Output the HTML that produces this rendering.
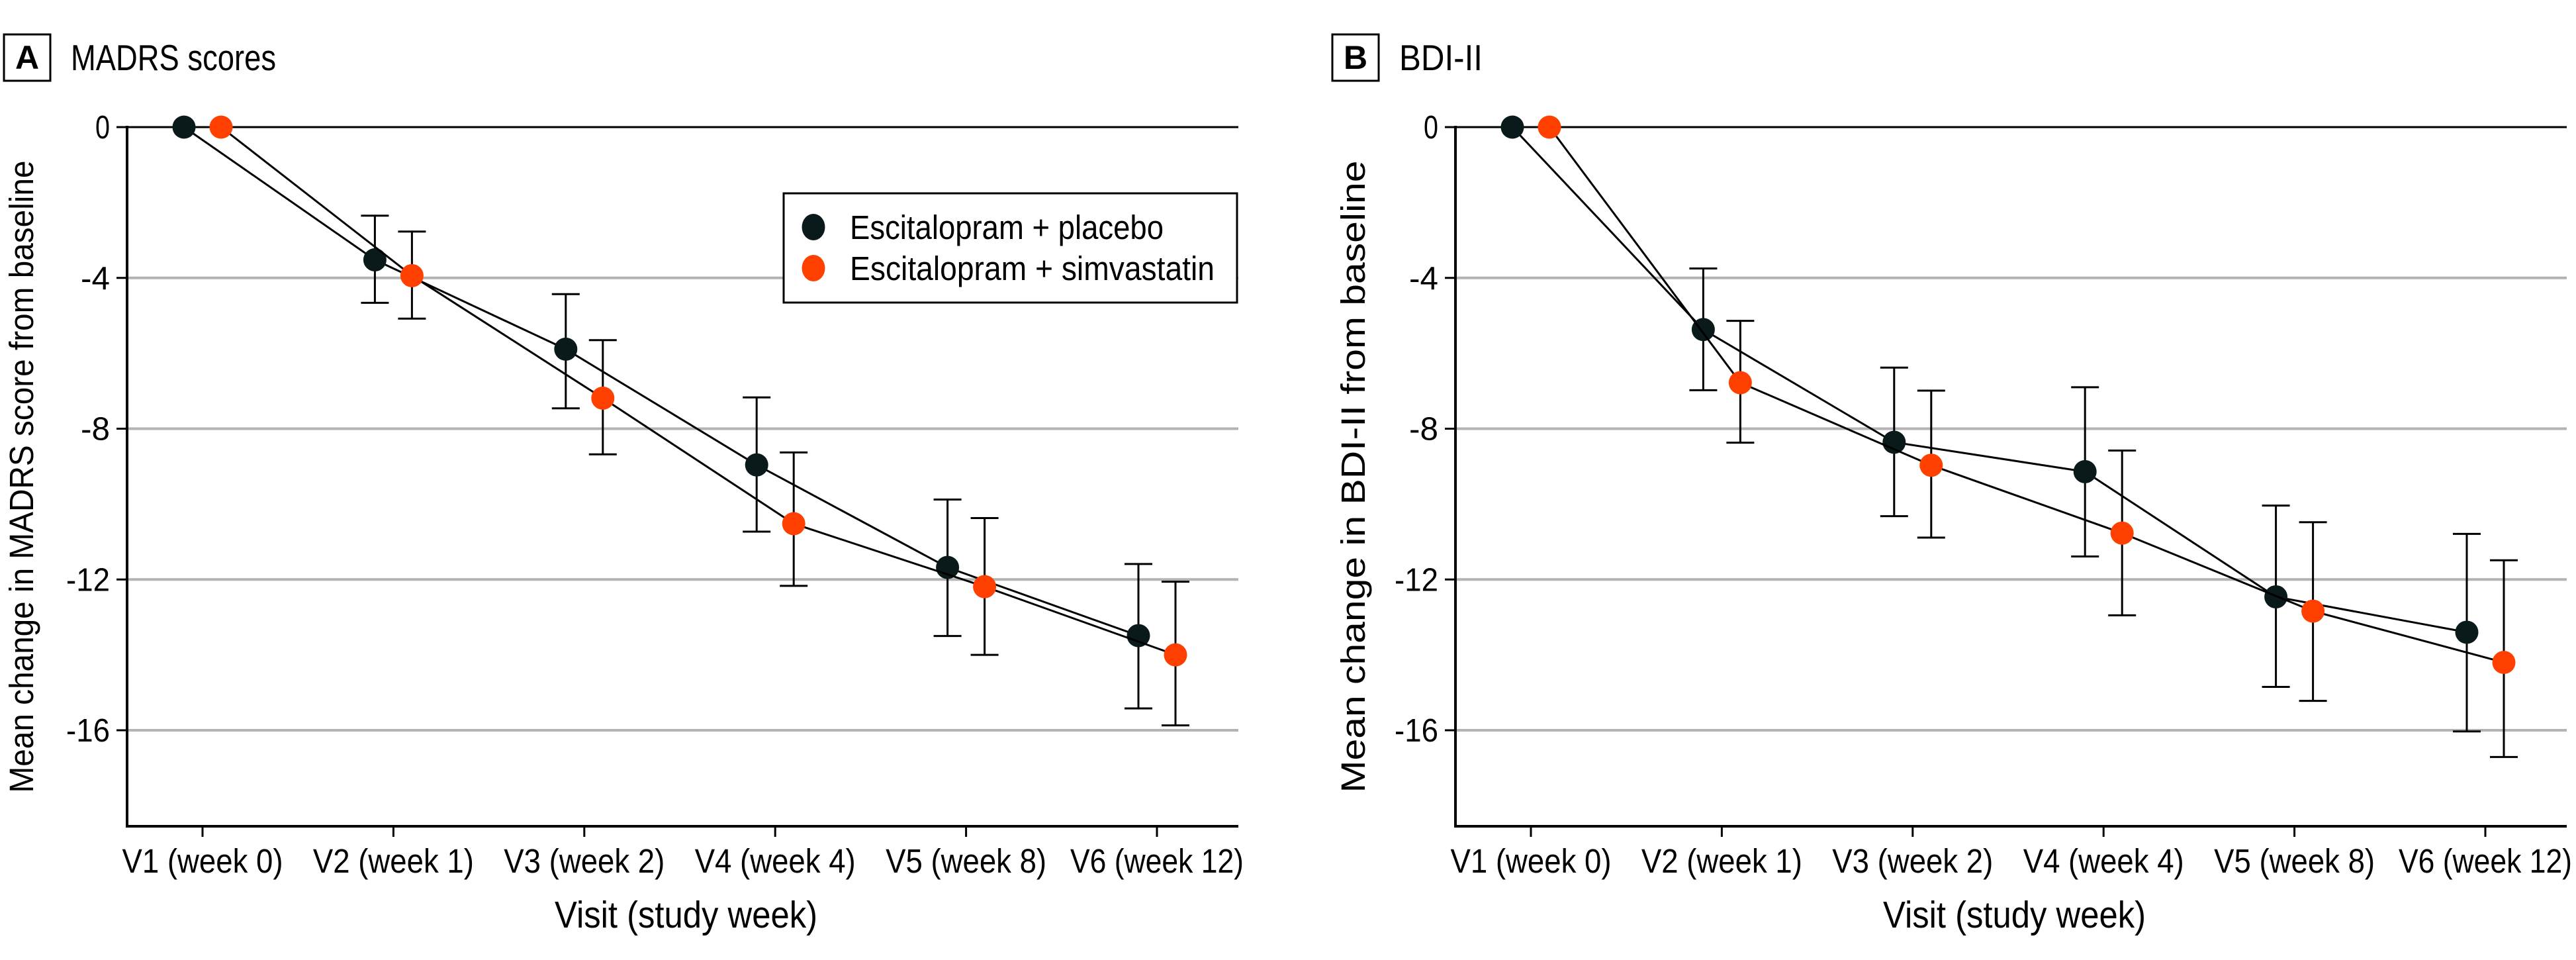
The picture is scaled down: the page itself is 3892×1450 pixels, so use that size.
<!DOCTYPE html>
<html><head><meta charset="utf-8"><style>
html,body{margin:0;padding:0;background:#fff;}
svg{display:block;}
text{font-family:"Liberation Sans",sans-serif;fill:#000;}
</style></head><body>
<svg id="chart" width="3892" height="1450" viewBox="0 0 3892 1450" xmlns="http://www.w3.org/2000/svg"></svg>
<script>
const categories = ["V1 (week 0)","V2 (week 1)","V3 (week 2)","V4 (week 4)","V5 (week 8)","V6 (week 12)"];
const yTicks = [0,-4,-8,-12,-16];
const yTickLabels = ["0","-4","-8","-12","-16"];
const madrsPlacebo = [0,-3.52,-5.89,-8.96,-11.68,-13.49];
const madrsPlaceboLo = [0,-4.66,-7.46,-10.73,-13.5,-15.42];
const madrsPlaceboHi = [0,-2.35,-4.43,-7.17,-9.88,-11.59];
const madrsSimva = [0,-3.94,-7.19,-10.52,-12.19,-14.0];
const madrsSimvaLo = [0,-5.08,-8.68,-12.17,-14.0,-15.87];
const madrsSimvaHi = [0,-2.77,-5.65,-8.63,-10.37,-12.06];
const bdiPlacebo = [0,-5.37,-8.36,-9.14,-12.46,-13.40];
const bdiPlaceboLo = [0,-6.98,-10.32,-11.39,-14.85,-16.03];
const bdiPlaceboHi = [0,-3.75,-6.38,-6.90,-10.04,-10.79];
const bdiSimva = [0,-6.78,-8.97,-10.77,-12.84,-14.20];
const bdiSimvaLo = [0,-8.37,-10.89,-12.95,-15.22,-16.71];
const bdiSimvaHi = [0,-5.14,-6.99,-8.58,-10.48,-11.49];

const NS="http://www.w3.org/2000/svg";
const svg=document.getElementById('chart');
function mk(tag,attrs,parent,txt){const e=document.createElementNS(NS,tag);for(const k in attrs)e.setAttribute(k,attrs[k]);if(txt!==undefined)e.textContent=txt;(parent||svg).appendChild(e);return e;}
const BLACK="#0a1a1a", ORANGE="#ff4000";

function panel(ox, letter, title, titleW, ylab, series, legend){
  const g=mk('g',{});
  
  
  const axX=192+ox, right=1871+ox, bottom=1248;
  const x=i=>306+ox+i*288.4;
  const y=v=>192+(-v)/16*911;
  const lb=mk('rect',{x:6+ox,y:52,width:70,height:70,fill:'none',stroke:'#000','stroke-width':3},g);
  
  
  const lt=mk('text',{x:41+ox,y:104,'text-anchor':'middle','font-size':50,'font-weight':'bold'},g,letter);
  
  
  const tt=mk('text',{x:107+ox,y:106,'font-size':55,textLength:titleW,lengthAdjust:'spacingAndGlyphs'},g,title);
  
  
  yTicks.forEach((v,i)=>{
    const gl=mk('line',{x1:axX,x2:right,y1:y(v),y2:y(v),stroke:v===0?'#000':'#b3b3b3','stroke-width':v===0?3:4},g);
    
    
    mk('line',{x1:axX-16,x2:axX,y1:y(v),y2:y(v),stroke:'#000','stroke-width':3},g);
    const tl=mk('text',{x:axX-26,y:y(v)+17,'text-anchor':'end','font-size':49,textLength:yTickLabels[i].length*22,lengthAdjust:'spacingAndGlyphs'},g,yTickLabels[i]);
    
    
  });
  const ya=mk('line',{x1:axX,x2:axX,y1:190,y2:bottom+2,stroke:'#000','stroke-width':4},g);
  
  
  const xa=mk('line',{x1:axX-2,x2:right,y1:bottom,y2:bottom,stroke:'#000','stroke-width':4},g);
  
  
  categories.forEach((c,i)=>{
    mk('line',{x1:x(i),x2:x(i),y1:bottom,y2:bottom+16,stroke:'#000','stroke-width':3},g);
    const xl=mk('text',{x:x(i),y:1318,'text-anchor':'middle','font-size':51,textLength:c.length>11?262:243,lengthAdjust:'spacingAndGlyphs'},g,c);
    
    
  });
  const xt=mk('text',{x:(axX+right)/2+5,y:1401,'text-anchor':'middle','font-size':57,textLength:397,lengthAdjust:'spacingAndGlyphs'},g,'Visit (study week)');
  
  
  const yt=mk('text',{x:0,y:0,'text-anchor':'middle','font-size':51,textLength:955,lengthAdjust:'spacingAndGlyphs',transform:`translate(${50+ox+(letter==='B'?5:0)},720) rotate(-90)`},g,ylab);
  
  
  series.forEach(s=>{
    const sg=mk('g',{},g);
    
    
    const px=i=>x(i)+s.off;
    const pts=s.v.map((v,i)=>px(i)+','+y(v)).join(' ');
    const pl=mk('polyline',{points:pts,fill:'none',stroke:'#000','stroke-width':3},sg);
    
    
    s.v.forEach((v,i)=>{
      if(i>0){
        const eb=mk('path',{d:`M${px(i)},${y(s.lo[i])}V${y(s.hi[i])}M${px(i)-21},${y(s.lo[i])}h42M${px(i)-21},${y(s.hi[i])}h42`,stroke:'#000','stroke-width':3,fill:'none'},sg);
        
        
      }
    });
    s.v.forEach((v,i)=>{
      const c=mk('circle',{cx:px(i),cy:y(v),r:17.5,fill:s.color},sg);
      
      
    });
  });
  if(legend){
    const lg=mk('g',{},g);
    
    
    mk('rect',{x:1184+ox,y:292,width:685,height:165,fill:'#fff',stroke:'#000','stroke-width':3},lg);
    [["Escitalopram + placebo",BLACK,343,474],["Escitalopram + simvastatin",ORANGE,405,551]].forEach(e=>{
      const le=mk('g',{},lg);
      
      
      mk('ellipse',{cx:1229+ox,cy:e[2],rx:17.5,ry:20,fill:e[1]},le);
      mk('text',{x:1284+ox,y:e[2]+18,'font-size':51,textLength:e[3],lengthAdjust:'spacingAndGlyphs'},le,e[0]);
    });
  }
}
panel(0,'A','MADRS scores',310,'Mean change in MADRS score from baseline',[
  {name:'placebo',v:madrsPlacebo,lo:madrsPlaceboLo,hi:madrsPlaceboHi,color:BLACK,off:-28},
  {name:'simvastatin',v:madrsSimva,lo:madrsSimvaLo,hi:madrsSimvaHi,color:ORANGE,off:28}],true);
panel(2007,'B','BDI-II',126,'Mean change in BDI-II from baseline',[
  {name:'placebo',v:bdiPlacebo,lo:bdiPlaceboLo,hi:bdiPlaceboHi,color:BLACK,off:-28},
  {name:'simvastatin',v:bdiSimva,lo:bdiSimvaLo,hi:bdiSimvaHi,color:ORANGE,off:28}],false);
</script>
</body></html>
